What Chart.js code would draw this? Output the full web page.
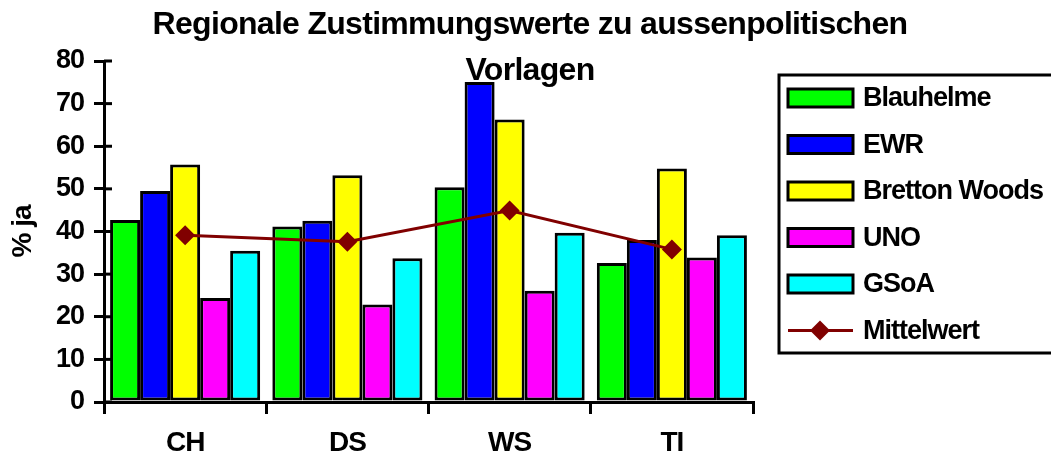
<!DOCTYPE html>
<html>
<head>
<meta charset="utf-8">
<script src="https://cdn.jsdelivr.net/npm/chart.js@4"></script>
<style>
  body { margin: 0; background: #fff; }
  #wrap { width: 1051px; height: 459px; }
</style>
</head>
<body>
<div id="wrap"><canvas id="myChart" width="1051" height="459"></canvas></div>
<script>
// Daten
var regionen = ['CH', 'DS', 'WS', 'TI'];
var blauhelme = [42.7, 41.2, 50.4, 32.6];
var ewr = [49.5, 42.5, 75.1, 38.0];
var brettonWoods = [55.7, 53.2, 66.3, 54.8];
var uno = [24.4, 22.9, 26.1, 33.9];
var gsoa = [35.5, 33.7, 39.7, 39.1];
var mittelwert = [39.1, 37.6, 44.9, 35.8];
var yTicks = [0, 10, 20, 30, 40, 50, 60, 70, 80];

var schrift = '"Liberation Sans", Arial, sans-serif';

// etwas engere Schrift wie im Original
var enger = {
    id: 'enger',
    beforeDraw: function(chart) {
        chart.ctx.letterSpacing = '-1px';
    }
};

// Titel ueber dem Diagramm (ueberlappt wie im Original)
var titelPlugin = {
    id: 'titel',
    afterDraw: function(chart) {
        var ctx = chart.ctx;
        ctx.save();
        ctx.letterSpacing = '-0.7px';
        ctx.fillStyle = '#000';
        ctx.font = 'bold 32px ' + schrift;
        ctx.textAlign = 'center';
        ctx.textBaseline = 'alphabetic';
        ctx.fillText('Regionale Zustimmungswerte zu aussenpolitischen', 530, 34);
        ctx.fillText('Vorlagen', 530, 80);
        ctx.restore();
    }
};

// Tickstriche der y-Achse ragen auch ins Diagramm
var tickPlugin = {
    id: 'ytickinnen',
    afterDraw: function(chart) {
        var ctx = chart.ctx;
        var y = chart.scales.y;
        ctx.save();
        ctx.strokeStyle = '#000';
        ctx.lineWidth = 3;
        yTicks.forEach(function(v) {
            var py = y.getPixelForValue(v);
            ctx.beginPath();
            ctx.moveTo(y.right, py);
            ctx.lineTo(y.right + 8, py);
            ctx.stroke();
        });
        ctx.restore();
    }
};

// Legende mit Rahmen rechts
var legendePlugin = {
    id: 'legende',
    afterDraw: function(chart) {
        var ctx = chart.ctx;
        ctx.save();
        ctx.strokeStyle = '#000';
        ctx.lineWidth = 3;
        ctx.strokeRect(779, 75, 300, 278);
        ctx.font = 'bold 27px ' + schrift;
        ctx.letterSpacing = '-1px';
        ctx.textBaseline = 'middle';
        ctx.textAlign = 'left';
        chart.data.datasets.forEach(function(ds, i) {
            var cy = 98 + i * 46.5;
            if (ds.type === 'line') {
                ctx.strokeStyle = ds.borderColor;
                ctx.lineWidth = 3;
                ctx.beginPath();
                ctx.moveTo(788, cy);
                ctx.lineTo(853, cy);
                ctx.stroke();
                ctx.fillStyle = ds.pointBackgroundColor;
                ctx.beginPath();
                ctx.moveTo(820 - 10, cy);
                ctx.lineTo(820, cy - 10);
                ctx.lineTo(820 + 10, cy);
                ctx.lineTo(820, cy + 10);
                ctx.closePath();
                ctx.fill();
            } else {
                ctx.fillStyle = ds.backgroundColor;
                ctx.fillRect(788, cy - 9, 65, 18);
                ctx.strokeStyle = '#000';
                ctx.lineWidth = 3;
                ctx.strokeRect(788, cy - 9, 65, 18);
            }
            ctx.fillStyle = '#000';
            ctx.fillText(ds.label, 863, cy + 1);
        });
        ctx.restore();
    }
};

function balken(label, werte, farbe) {
    return {
        type: 'bar',
        label: label,
        data: werte,
        backgroundColor: farbe,
        borderColor: '#000',
        borderWidth: 3,
        borderSkipped: false,
        barPercentage: 1.0,
        categoryPercentage: 0.925
    };
}

var ctx = document.getElementById('myChart').getContext('2d');
var chart = new Chart(ctx, {
    type: 'bar',
    data: {
        labels: regionen,
        datasets: [
            balken('Blauhelme', blauhelme, '#00ff00'),
            balken('EWR', ewr, '#0000ff'),
            balken('Bretton Woods', brettonWoods, '#ffff00'),
            balken('UNO', uno, '#ff00ff'),
            balken('GSoA', gsoa, '#00ffff'),
            {
                type: 'line',
                label: 'Mittelwert',
                data: mittelwert,
                order: -1,
                borderColor: '#800000',
                borderWidth: 3,
                pointStyle: 'rectRot',
                pointRadius: 10,
                pointBackgroundColor: '#800000',
                pointBorderColor: '#800000',
                pointBorderWidth: 0,
                tension: 0,
                fill: false
            }
        ]
    },
    options: {
        responsive: false,
        animation: false,
        layout: { padding: { left: 0, top: 61, right: 298, bottom: 0 } },
        plugins: {
            legend: { display: false },
            title: { display: false },
            tooltip: { enabled: false }
        },
        scales: {
            x: {
                offset: true,
                grid: {
                    offset: true,
                    drawOnChartArea: false,
                    drawTicks: true,
                    tickLength: 12,
                    color: '#000',
                    lineWidth: 3
                },
                border: { display: true, color: '#000', width: 3 },
                ticks: {
                    color: '#000',
                    font: { family: schrift, size: 28, weight: 'bold' },
                    padding: 12
                },
                afterFit: function(scale) { scale.height = 57; }
            },
            y: {
                min: 0,
                max: 80,
                afterBuildTicks: function(scale) {
                    scale.ticks = yTicks.map(function(v) { return { value: v }; });
                },
                grid: {
                    drawOnChartArea: false,
                    drawTicks: true,
                    tickLength: 10,
                    color: '#000',
                    lineWidth: 3
                },
                border: { display: true, color: '#000', width: 3 },
                ticks: {
                    color: '#000',
                    font: { family: schrift, size: 27, weight: 'bold' },
                    padding: 10
                },
                title: {
                    display: true,
                    text: '% ja',
                    color: '#000',
                    font: { family: schrift, size: 28, weight: 'bold' },
                    padding: { top: 6, bottom: 2 }
                },
                afterFit: function(scale) { scale.width = 104; }
            }
        }
    },
    plugins: [enger, titelPlugin, tickPlugin, legendePlugin]
});
</script>
</body>
</html>
